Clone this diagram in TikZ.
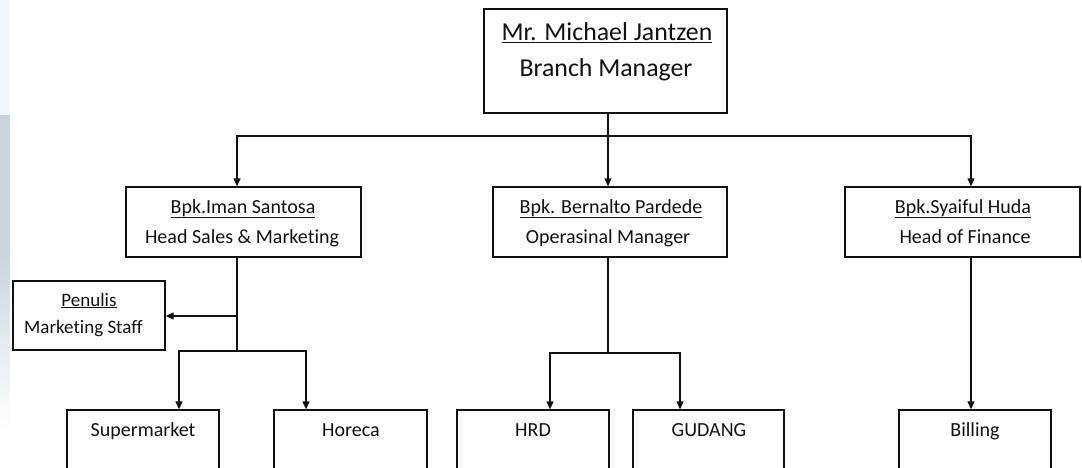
\documentclass[tikz,border=0pt]{standalone}
\usepackage{fontspec}
\setmainfont{Carlito}[Ligatures=NoCommon]
\usetikzlibrary{arrows.meta}
\definecolor{strip}{HTML}{C8D5DC}
\definecolor{palestrip}{HTML}{F2F7F9}
\definecolor{ink}{HTML}{111111}
\begin{document}
\begin{tikzpicture}[x=1pt,y=-1pt,
  box/.style={draw=ink, line width=1.3pt, inner sep=0pt, rectangle},
  conn/.style={draw=ink, line width=1.2pt, line cap=rect},
  arr/.style={draw=ink, line width=1.2pt, -{Triangle[length=8pt,width=7pt]}},
  tlarge/.style={font=\fontsize{25.8}{30}\selectfont, anchor=base, text=ink, inner sep=0pt},
  tmid/.style={font=\fontsize{20}{24}\selectfont, anchor=base, text=ink, inner sep=0pt},
  tsmall/.style={font=\fontsize{19}{22}\selectfont, anchor=base, text=ink, inner sep=0pt},
]
\useasboundingbox (0,0) rectangle (1082,468);
\clip (0,0) rectangle (1082,468);
\fill[white] (0,0) rectangle (1082,468);
% left strip
\fill[palestrip] (0,0) rectangle (10,115);
\fill[strip] (0,115) rectangle (10,250);
\shade[top color=strip, bottom color=white] (0,250) rectangle (10,430);

% boxes
\node[box, minimum width=243pt, minimum height=104pt] (top) at (605.5,61) {};
\node[box, minimum width=235pt, minimum height=70pt] (b1) at (243.5,222) {};
\node[box, minimum width=234pt, minimum height=70pt] (b2) at (610,222) {};
\node[box, minimum width=235pt, minimum height=70pt] (b3) at (962.5,222) {};
\node[box, minimum width=152pt, minimum height=69pt] (pen) at (89,315.5) {};
\node[box, minimum width=152pt, minimum height=70pt] (sup) at (143,445) {};
\node[box, minimum width=153pt, minimum height=70pt] (hor) at (350.5,445) {};
\node[box, minimum width=152pt, minimum height=70pt] (hrd) at (533,445) {};
\node[box, minimum width=151pt, minimum height=70pt] (gud) at (708.5,445) {};
\node[box, minimum width=152pt, minimum height=70pt] (bil) at (975,445) {};

% texts
\node[tlarge] (topname) at (607,41) {\underline{Mr. Michael Jantzen}};
\node[tlarge] (toprole) at (606,77) {Branch Manager};
\node[tmid] (b1name) at (243,213) {\underline{Bpk.Iman Santosa}};
\node[tmid] (b1role) at (242,243) {Head Sales \& Marketing};
\node[tmid] (b2name) at (611,213) {\underline{Bpk. Bernalto Pardede}};
\node[tmid] (b2role) at (608,243) {Operasinal Manager};
\node[tmid] (b3name) at (963,213) {\underline{Bpk.Syaiful Huda}};
\node[tmid] (b3role) at (965,243) {Head of Finance};
\node[tsmall] (penname) at (89,306) {\underline{Penulis}};
\node[tsmall] (penrole) at (83.5,333) {Marketing Staff};
\node[tmid] (suptext) at (143,436) {Supermarket};
\node[tmid] (hortext) at (351,436) {Horeca};
\node[tmid] (hrdtext) at (533,436) {HRD};
\node[tmid] (gudtext) at (709,436) {GUDANG};
\node[tmid] (biltext) at (975,436) {Billing};

% top level connectors
\coordinate (jT) at (608,136);
\coordinate (jL) at (237,136);
\coordinate (jR) at (971,136);
\draw[conn] (jT |- top.south) -- (jT);
\draw[conn] (jL) -- (jR);
\draw[arr] (jL) -- (jL |- b1.north);
\draw[arr] (jT) -- (jT |- b2.north);
\draw[arr] (jR) -- (jR |- b3.north);

% sales branch
\coordinate (sP) at (237,316);
\coordinate (sB) at (237,351);
\coordinate (sL) at (179,351);
\coordinate (sR) at (306,351);
\draw[conn] (sP |- b1.south) -- (sB);
\draw[arr] (sP) -- (sP -| pen.east);
\draw[conn] (sL) -- (sR);
\draw[arr] (sL) -- (sL |- sup.north);
\draw[arr] (sR) -- (sR |- hor.north);

% operations branch
\coordinate (oB) at (608,353);
\coordinate (oL) at (550,353);
\coordinate (oR) at (680,353);
\draw[conn] (oB |- b2.south) -- (oB);
\draw[conn] (oL) -- (oR);
\draw[arr] (oL) -- (oL |- hrd.north);
\draw[arr] (oR) -- (oR |- gud.north);

% finance branch
\draw[arr] (jR |- b3.south) -- (jR |- bil.north);
\end{tikzpicture}
\end{document}
